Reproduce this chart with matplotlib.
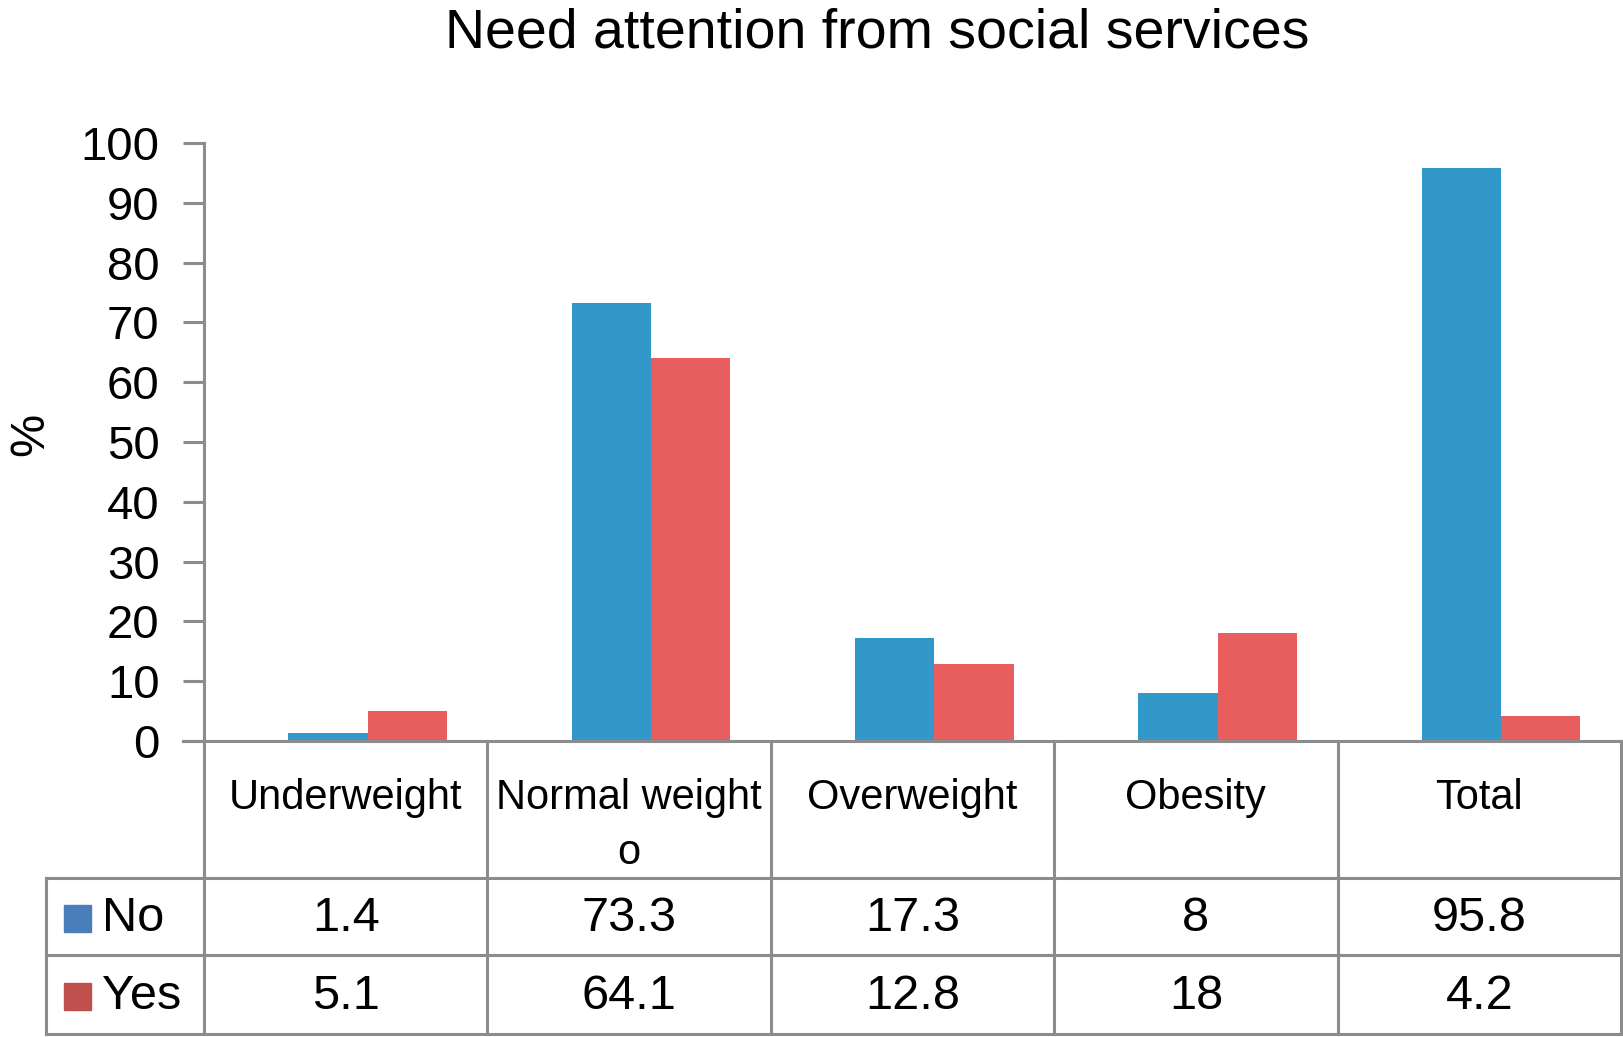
import matplotlib
matplotlib.use("Agg")
import matplotlib.pyplot as plt

plt.rcParams['font.family'] = ['Liberation Sans', 'DejaVu Sans']

categories = ["Underweight", "Normal weight\no", "Overweight", "Obesity", "Total"]
series = ["No", "Yes"]
no_vals = [1.4, 73.3, 17.3, 8, 95.8]
yes_vals = [5.1, 64.1, 12.8, 18, 4.2]
no_labels = ["1.4", "73.3", "17.3", "8", "95.8"]
yes_labels = ["5.1", "64.1", "12.8", "18", "4.2"]

bar_cols = ["#3198c9", "#e85e5e"]
key_cols = ["#4a7ebb", "#c0504d"]
grey = "#8c8c8c"

W, H = 1624, 1037
fig = plt.figure(figsize=(W / 100, H / 100), dpi=100)

# main plot area, pixel box -> figure fraction
left, right, top, bottom = 204, 1621, 143, 741
ax = fig.add_axes([left / W, 1 - bottom / H, (right - left) / W, (bottom - top) / H])

x = range(len(categories))
bw = 0.28
off = 0.077
ax.bar([i + off - bw / 2 for i in x], no_vals, width=bw, color=bar_cols[0], label="No")
ax.bar([i + off + bw / 2 for i in x], yes_vals, width=bw, color=bar_cols[1], label="Yes")

ax.set_xlim(-0.5, 4.5)
ax.set_ylim(0, 100)
ax.set_yticks(range(0, 101, 10))
ax.tick_params(axis='y', labelsize=34, length=15, width=2.2, color=grey, pad=17)
ax.set_xticks([])
for s in ["top", "right"]:
    ax.spines[s].set_visible(False)
ax.spines["left"].set_color(grey)
ax.spines["left"].set_linewidth(2.2)
ax.spines["bottom"].set_visible(False)
ax.set_ylabel("%", fontsize=35, va="center", ha="center")
ax.yaxis.set_label_coords(-0.122, 0.512)

fig.text(877 / W, 1 - 33 / H, "Need attention from social services", fontsize=40,
         ha="center", va="center")

# data table under the plot, in pixel coords
tax = fig.add_axes([0, 0, 1, 1])
tax.set_xlim(0, W)
tax.set_ylim(H, 0)
tax.axis("off")

col_w = (right - left) / len(categories)
edges = [left + k * col_w for k in range(len(categories) + 1)]
row_y = [741, 878, 955, 1034]
lab_left = 46
lw = 2.2

# horizontal lines
tax.plot([left - 21, right], [row_y[0]] * 2, color=grey, lw=lw)
for y in row_y[1:]:
    tax.plot([lab_left, right], [y, y], color=grey, lw=lw)
# vertical lines
for e in edges:
    tax.plot([e, e], [row_y[0], row_y[3]], color=grey, lw=lw)
tax.plot([lab_left, lab_left], [row_y[1], row_y[3]], color=grey, lw=lw)

# header labels
for k, c in enumerate(categories):
    tax.text((edges[k] + edges[k + 1]) / 2, 778, c, fontsize=30, ha="center", va="top",
             linespacing=1.5)

# value rows
for r, (name, labs) in enumerate([(series[0], no_labels), (series[1], yes_labels)]):
    yc = (row_y[r + 1] + row_y[r + 2]) / 2 + 2
    for k, v in enumerate(labs):
        tax.text((edges[k] + edges[k + 1]) / 2, yc, v, fontsize=35, ha="center", va="center")
    tax.add_patch(plt.Rectangle((64, yc - 14), 27, 27, color=key_cols[r]))
    tax.text(102, yc, name, fontsize=35, ha="left", va="center")

fig.savefig("out.png", dpi=100)
